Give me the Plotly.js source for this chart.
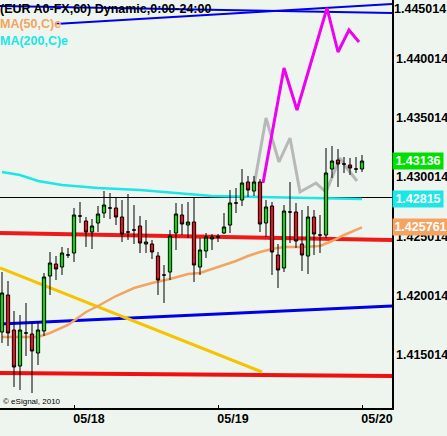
<!DOCTYPE html>
<html><head><meta charset="utf-8">
<script src="https://cdn.plot.ly/plotly-3.0.1.min.js"></script>
<style>html,body{margin:0;padding:0;background:#EEF5EE;}#chart{width:447px;height:436px;}</style>
</head><body><div id="chart"></div>
<script>
// ---- data (hourly EUR A0-FX bars) ----
const time = [
'2010-05-17 12:00','2010-05-17 13:00','2010-05-17 14:00','2010-05-17 15:00','2010-05-17 16:00','2010-05-17 17:00',
'2010-05-17 18:00','2010-05-17 19:00','2010-05-17 20:00','2010-05-17 21:00','2010-05-17 22:00','2010-05-17 23:00',
'2010-05-18 00:00','2010-05-18 01:00','2010-05-18 02:00','2010-05-18 03:00','2010-05-18 04:00','2010-05-18 05:00',
'2010-05-18 06:00','2010-05-18 07:00','2010-05-18 08:00','2010-05-18 09:00','2010-05-18 10:00','2010-05-18 11:00',
'2010-05-18 12:00','2010-05-18 13:00','2010-05-18 14:00','2010-05-18 15:00','2010-05-18 16:00','2010-05-18 17:00',
'2010-05-18 18:00','2010-05-18 19:00','2010-05-18 20:00','2010-05-18 21:00','2010-05-18 22:00','2010-05-18 23:00',
'2010-05-19 00:00','2010-05-19 01:00','2010-05-19 02:00','2010-05-19 03:00','2010-05-19 04:00','2010-05-19 05:00',
'2010-05-19 06:00','2010-05-19 07:00','2010-05-19 08:00','2010-05-19 09:00','2010-05-19 10:00','2010-05-19 11:00',
'2010-05-19 12:00','2010-05-19 13:00','2010-05-19 14:00','2010-05-19 15:00','2010-05-19 16:00','2010-05-19 17:00',
'2010-05-19 18:00','2010-05-19 19:00','2010-05-19 20:00','2010-05-19 21:00','2010-05-19 22:00','2010-05-19 23:00',
'2010-05-20 00:00'];
const open = [
1.416952,1.420069,1.417120,1.414087,1.416867,1.416783,1.415182,1.417036,1.421670,1.422681,1.422429,1.423440,
1.423608,1.426726,1.426305,1.425378,1.426136,1.426979,1.427400,1.427400,1.426642,1.425378,1.425546,1.425883,
1.424367,1.424367,1.423355,1.421754,1.422007,1.425293,1.426810,1.425967,1.426220,1.422429,1.423777,1.424788,
1.424956,1.425293,1.425967,1.427821,1.428074,1.429591,1.428832,1.429591,1.426136,1.427568,1.423440,1.422344,
1.427063,1.427063,1.424367,1.423355,1.426642,1.425125,1.425125,1.430686,1.431444,1.431107,1.431023,1.430686,
1.430686];
const high = [
1.422007,1.421249,1.418721,1.418384,1.419395,1.417794,1.417879,1.421923,1.423692,1.423355,1.424114,1.424030,
1.427400,1.427905,1.426642,1.426473,1.427568,1.428832,1.428664,1.428327,1.428074,1.428580,1.427653,1.426726,
1.426389,1.424704,1.423692,1.422597,1.425546,1.427821,1.427737,1.427905,1.428327,1.424872,1.425293,1.425209,
1.425209,1.426979,1.428917,1.429085,1.430686,1.430096,1.430096,1.429843,1.428074,1.427905,1.424367,1.427653,
1.429591,1.427821,1.427231,1.427568,1.427231,1.426810,1.432456,1.432624,1.432371,1.431697,1.431613,1.431697,
1.431866];
const low = [
1.416025,1.415772,1.412317,1.412065,1.414929,1.411812,1.414171,1.416615,1.420069,1.421333,1.421754,1.423187,
1.422850,1.426136,1.424114,1.423945,1.425378,1.426557,1.426473,1.425967,1.424535,1.424704,1.424367,1.423608,
1.423608,1.423103,1.420069,1.419395,1.421333,1.423861,1.425125,1.424872,1.421165,1.421754,1.423187,1.423861,
1.424535,1.425209,1.425293,1.426979,1.427568,1.428327,1.428411,1.425378,1.424956,1.421754,1.420659,1.422007,
1.424451,1.424030,1.422092,1.421839,1.423440,1.423608,1.424872,1.429928,1.429169,1.430349,1.430180,1.430349,
1.430433];
const close = [
1.420238,1.416867,1.414003,1.417120,1.416867,1.415351,1.417120,1.421586,1.422766,1.422260,1.423608,1.423440,
1.426810,1.426726,1.425378,1.425883,1.426894,1.427653,1.427400,1.426642,1.425209,1.425378,1.425546,1.424451,
1.424535,1.423692,1.421333,1.421754,1.425041,1.426894,1.426052,1.426220,1.422597,1.423861,1.424956,1.424956,
1.424956,1.425799,1.427821,1.427821,1.429506,1.428917,1.429591,1.426052,1.427484,1.423692,1.422176,1.427147,
1.427063,1.424619,1.423440,1.426642,1.425209,1.425125,1.430349,1.431360,1.431107,1.431107,1.430770,1.430686,
1.431360];

// moving averages (read at selected bars)
const ma50Time = ['2010-05-17 12:00','2010-05-17 18:00','2010-05-17 20:00','2010-05-17 23:00','2010-05-18 02:00',
'2010-05-18 04:00','2010-05-18 07:00','2010-05-18 10:00','2010-05-18 13:00','2010-05-18 16:00','2010-05-18 19:00',
'2010-05-18 21:00','2010-05-19 00:00','2010-05-19 03:00','2010-05-19 05:00','2010-05-19 07:00','2010-05-19 09:00',
'2010-05-19 11:00','2010-05-19 14:00','2010-05-19 17:00','2010-05-19 19:00','2010-05-19 21:00','2010-05-20 00:00'];
const ma50 = [1.416530,1.416530,1.416867,1.417541,1.418637,1.419142,1.419985,1.420659,1.421080,1.421417,1.421839,
1.421923,1.422429,1.422934,1.423355,1.423692,1.423945,1.424114,1.424114,1.424198,1.424619,1.425125,1.425761];
const ma200Time = ['2010-05-17 12:00','2010-05-17 15:00','2010-05-17 18:00','2010-05-17 22:00','2010-05-18 04:00',
'2010-05-18 11:00','2010-05-18 17:00','2010-05-18 23:00','2010-05-19 07:00','2010-05-19 14:00','2010-05-20 00:00'];
const ma200 = [1.430433,1.430180,1.429675,1.429338,1.429085,1.428917,1.428664,1.428411,1.428327,1.428243,1.42815];

// pattern projections
const grayTime = ['2010-05-19 06:00','2010-05-19 08:00','2010-05-19 10:10','2010-05-19 12:00','2010-05-19 13:40',
'2010-05-19 16:20','2010-05-19 18:00','2010-05-19 20:20','2010-05-19 21:20','2010-05-19 23:10'];
const grayVal = [1.429254,1.434983,1.431276,1.433298,1.428748,1.429506,1.428748,1.431613,1.430855,1.429675];
const magentaTime = ['2010-05-19 07:30','2010-05-19 11:00','2010-05-19 13:10','2010-05-19 18:10','2010-05-19 20:00',
'2010-05-19 21:50','2010-05-19 23:30'];
const magentaVal = [1.429506,1.439196,1.435657,1.444252,1.440544,1.442398,1.441387];

// drawn lines (end points)
const edgeTime = ['2010-05-17 11:40','2010-05-20 05:00'];
const redUpper = [1.425293,1.424704];
const redLower = [1.413497,1.413244];
const blueLower = [1.417626,1.419142];
const blueTopA = [1.444420,1.443831];
const blueTopBTime = ['2010-05-17 20:50','2010-05-20 05:00'];
const blueTopB = [1.442904,1.444589];
const yellowTime = ['2010-05-17 11:40','2010-05-19 07:20'];
const yellowVal = [1.422344,1.413581];
const blackLevel = [1.428285,1.428285];

const yTickVals = [1.415014,1.420014,1.425014,1.430014,1.435014,1.440014];
const yTickText = ['1.415014','1.420014','1.425014','1.430014','1.435014','1.440014'];
const topTickText = '1.445014';
const xTickVals = ['2010-05-18 00:00','2010-05-19 00:00','2010-05-20 00:00'];
const xTickText = ['05/18','05/19','05/20'];
const lastClose = 1.43136, lastMA200 = 1.42815, lastMA50 = 1.425761;
const xRange = ['2010-05-17 11:40','2010-05-20 05:00'];
const yRange = [1.410548,1.444926];

// ---- build ----
const FONT = 'Liberation Sans, Arial, sans-serif';
function pick(cond){
  const r={x:[],open:[],high:[],low:[],close:[]};
  for(let i=0;i<time.length;i++){ if(cond(open[i],close[i])){
    r.x.push(time[i]); r.open.push(open[i]); r.high.push(high[i]); r.low.push(low[i]); r.close.push(close[i]); } }
  return r;
}
function candle(sel, fill, lineCol){
  return Object.assign({type:'candlestick', xaxis:'x2', yaxis:'y2', whiskerwidth:0, hoverinfo:'skip',
    increasing:{line:{color:lineCol,width:1}, fillcolor:fill},
    decreasing:{line:{color:lineCol,width:1}, fillcolor:fill}, showlegend:false}, sel);
}
function line(x,y,color,width){
  return {type:'scatter', mode:'lines', x:x, y:y, line:{color:color,width:width}, hoverinfo:'skip', showlegend:false};
}
const traces = [
  line(edgeTime, blackLevel, '#000000', 1),
  line(edgeTime, redUpper, '#EE1A1A', 4),
  line(edgeTime, redLower, '#F01010', 4),
  line(edgeTime, blueLower, '#0000E6', 3),
  line(edgeTime, blueTopA, '#0000E6', 2),
  line(blueTopBTime, blueTopB, '#0000E6', 2),
  line(yellowTime, yellowVal, '#F5C400', 3),
  line(ma50Time, ma50, '#F4A460', 2.5),
  line(ma200Time, ma200, '#1CE6E6', 2.5),
  line(grayTime, grayVal, '#B8B8B8', 3),
  line(magentaTime, magentaVal, '#F000F0', 3),
  candle(pick((o,c)=>c>o), '#00E000', '#000000'),
  candle(pick((o,c)=>c<o), '#E8101A', '#000000'),
  candle(pick((o,c)=>c===o), '#000000', '#000000')
];
const bold = {family:FONT, size:12.5, color:'#000000', weight:'bold'};
const layout = {
  width:447, height:436, margin:{l:0,r:55,t:0,b:28},
  paper_bgcolor:'#EEF5EE', plot_bgcolor:'#EEF5EE', hovermode:false, showlegend:false, boxgap:0.22,
  xaxis:{type:'date', range:xRange, showgrid:false, zeroline:false, showline:true, linecolor:'#000', linewidth:1.5,
    tickvals:xTickVals, ticktext:xTickText, ticks:'inside', ticklen:3, tickcolor:'#000', tickfont:bold,
    ticklabelshift:15, ticklabelstandoff:-2, rangeslider:{visible:false}, fixedrange:true},
  yaxis:{range:yRange, side:'right', showgrid:false, zeroline:false, showline:true, linecolor:'#000', linewidth:1.5,
    tickvals:yTickVals, ticktext:yTickText, ticks:'', tickfont:bold, fixedrange:true},
  xaxis2:{type:'date', range:xRange, overlaying:'x', anchor:'y2', visible:false, rangeslider:{visible:false}, fixedrange:true},
  yaxis2:{range:yRange, overlaying:'y', anchor:'x2', side:'right', visible:false, fixedrange:true},
  annotations:[
    {xref:'paper', yref:'paper', x:0, y:1, xanchor:'left', yanchor:'top', xshift:-2, showarrow:false,
     text:'<b>(EUR A0-FX,60) Dynamic,0:00-24:00</b>', font:{family:FONT,size:12.5,color:'#000'}},
    {xref:'paper', yref:'paper', x:0, y:1-24/408, xanchor:'left', yanchor:'middle', xshift:-2, showarrow:false,
     text:'<b>MA(50,C)e</b>', font:{family:FONT,size:12.5,color:'#F4A460'}},
    {xref:'paper', yref:'paper', x:0, y:1-41/408, xanchor:'left', yanchor:'middle', xshift:-2, showarrow:false,
     text:'<b>MA(200,C)e</b>', font:{family:FONT,size:12.5,color:'#1CE6E6'}},
    {xref:'paper', yref:'paper', x:1, y:1, xanchor:'left', yanchor:'top', xshift:0, showarrow:false,
     text:'<b>'+topTickText+'</b>', font:{family:FONT,size:12.5,color:'#000'}},
    {xref:'paper', yref:'paper', x:0, y:1-401/408, xanchor:'left', yanchor:'middle', xshift:1, showarrow:false,
     text:'© eSignal, 2010', font:{family:FONT,size:8,color:'#000'}},
    {xref:'paper', yref:'y', x:1, y:lastClose, xanchor:'left', yanchor:'middle', showarrow:false, width:48, height:14,
     borderpad:1, bgcolor:'#00E000', text:'<b>1.43136</b>', font:{family:FONT,size:12.5,color:'#FFFFFF'}},
    {xref:'paper', yref:'y', x:1, y:lastMA200, xanchor:'left', yanchor:'middle', showarrow:false, width:48, height:14,
     borderpad:1, bgcolor:'#1CE6E6', text:'<b>1.42815</b>', font:{family:FONT,size:12.5,color:'#FFFFFF'}},
    {xref:'paper', yref:'y', x:1, y:lastMA50, xanchor:'left', yanchor:'middle', showarrow:false, width:53, height:14,
     borderpad:1, bgcolor:'#F4A460', text:'<b>1.425761</b>', font:{family:FONT,size:12.5,color:'#FFFFFF'}}
  ]
};
Plotly.newPlot('chart', traces, layout, {staticPlot:true, displayModeBar:false});
</script></body></html>
